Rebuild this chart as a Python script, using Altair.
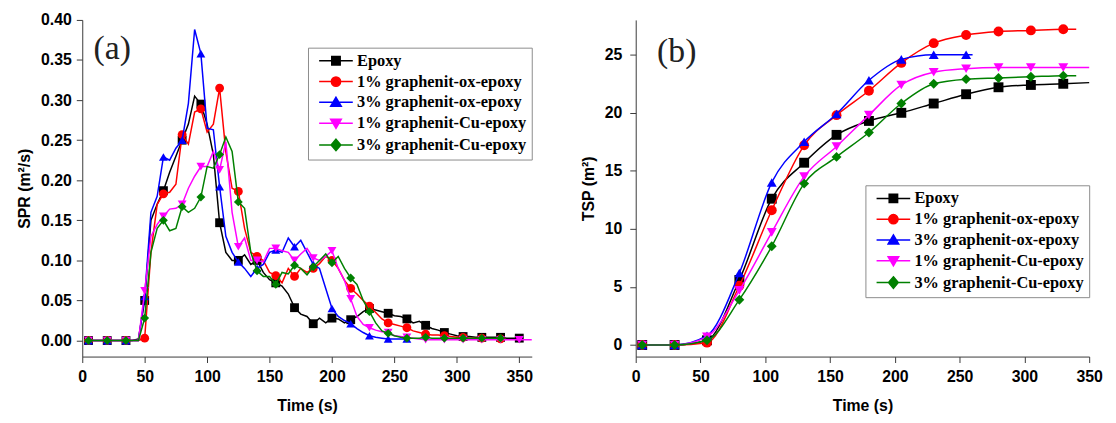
import altair as alt
import pandas as pd

NAMES = ["Epoxy", "1% graphenit-ox-epoxy", "3% graphenit-ox-epoxy",
         "1% graphenit-Cu-epoxy", "3% graphenit-Cu-epoxy"]
COLORS = ["#000000", "#ff0000", "#0000ff", "#ff00ff", "#008000"]
SHAPES = ["square", "circle", "triangle-up", "triangle-down", "diamond"]

# ---------------- SPR (m2/s), sampled every 5 s starting at 5 s ----------------
SPR_T0 = 5
SPR_DT = 5
spr_epoxy = [0, 0, 0, 0, 0, 0, 0, 0, 0.002,
             0.05, 0.15, 0.17, 0.187, 0.21, 0.23, 0.25, 0.27, 0.305, 0.295,
             0.27, 0.232, 0.147, 0.11, 0.10, 0.10, 0.107, 0.095, 0.10, 0.085,
             0.076, 0.072, 0.068, 0.058, 0.041, 0.033, 0.03, 0.021, 0.028, 0.022,
             0.028, 0.027, 0.022, 0.026, 0.03, 0.036, 0.04, 0.038, 0.036, 0.034,
             0.031, 0.03, 0.027, 0.022, 0.024, 0.019, 0.015, 0.013, 0.01, 0.008,
             0.006, 0.005, 0.005, 0.004, 0.004, 0.004, 0.004, 0.004, 0.003, 0.003,
             0.003]
spr_ox1 = [0, 0, 0, 0, 0, 0, 0, 0, 0,
           0.003, 0.11, 0.17, 0.183, 0.185, 0.195, 0.257, 0.245, 0.285, 0.289,
           0.26, 0.27, 0.315, 0.235, 0.19, 0.186, 0.14, 0.11, 0.105, 0.10,
           0.085, 0.081, 0.072, 0.09, 0.080, 0.09, 0.085, 0.09, 0.096, 0.105,
           0.10, 0.09, 0.075, 0.065, 0.058, 0.05, 0.043, 0.035, 0.027, 0.022,
           0.02, 0.018, 0.016, 0.012, 0.01, 0.008, 0.007, 0.007, 0.006, 0.005,
           0.004, 0.004, 0.003, 0.003, 0.003, 0.002, 0.002, 0.002]
spr_ox3 = [0, 0, 0, 0, 0, 0, 0, 0, 0,
           0.055, 0.16, 0.18, 0.229, 0.225, 0.24, 0.25, 0.296, 0.388, 0.358,
           0.265, 0.263, 0.192, 0.13, 0.11, 0.098, 0.09, 0.08, 0.09, 0.095,
           0.11, 0.113, 0.11, 0.128, 0.117, 0.125, 0.11, 0.095, 0.09, 0.065,
           0.04, 0.03, 0.025, 0.021, 0.015, 0.01, 0.006, 0.004, 0.003, 0.002,
           0.002, 0.002, 0.002]
spr_cu1 = [0, 0, 0, 0, 0, 0, 0, 0, 0,
           0.062, 0.13, 0.145, 0.155, 0.164, 0.165, 0.17, 0.19, 0.205, 0.217,
           0.217, 0.236, 0.213, 0.248, 0.16, 0.117, 0.128, 0.10, 0.10, 0.098,
           0.115, 0.115, 0.112, 0.11, 0.10, 0.108, 0.115, 0.103, 0.10, 0.105,
           0.112, 0.09, 0.075, 0.052, 0.03, 0.02, 0.016, 0.013, 0.011, 0.01,
           0.006, 0.005, 0.004, 0.003, 0.002, 0.001, 0.001, 0.001, 0.001, 0.001,
           0.001, 0.001, 0.001, 0.001, 0.001, 0.001, 0.001, 0.001, 0.001, 0.001,
           0.001, 0.001, 0.001]
spr_cu3 = [0, 0, 0, 0, 0, 0, 0, 0, 0,
           0.028, 0.11, 0.14, 0.150, 0.137, 0.14, 0.167, 0.16, 0.165, 0.179,
           0.217, 0.215, 0.232, 0.254, 0.236, 0.173, 0.165, 0.11, 0.087, 0.08,
           0.08, 0.07, 0.085, 0.083, 0.094, 0.09, 0.082, 0.092, 0.10, 0.108,
           0.097, 0.105, 0.09, 0.078, 0.07, 0.05, 0.036, 0.022, 0.012, 0.009,
           0.006, 0.004, 0.003, 0.003, 0.003, 0.004, 0.003, 0.003, 0.003, 0.003,
           0.003, 0.003, 0.003, 0.003, 0.003, 0.003, 0.003, 0.003]
spr_series = [spr_epoxy, spr_ox1, spr_ox3, spr_cu1, spr_cu3]

# ---------------- TSP (m2), markers every 25 s starting at 5 s ----------------
tsp_t = [5, 30, 55, 80, 105, 130, 155, 180, 205, 230, 255, 280, 305, 330]
tsp_epoxy = [0, 0, 0.4, 5.6, 12.6, 15.7, 18.1, 19.3, 20.0, 20.8, 21.6, 22.2, 22.4, 22.5]
tsp_ox1 = [0, 0, 0.2, 5.1, 11.6, 17.2, 19.8, 21.9, 24.3, 26.0, 26.7, 27.0, 27.1, 27.2]
tsp_ox3 = [0, 0, 0.8, 6.2, 14.0, 17.5, 19.9, 22.8, 24.6, 25.0, 25.0]
tsp_cu1 = [0, 0, 0.7, 4.7, 9.7, 14.5, 17.1, 19.8, 22.4, 23.5, 23.8, 23.9, 23.9, 23.9]
tsp_cu3 = [0, 0, 0.4, 3.9, 8.5, 13.9, 16.2, 18.3, 20.8, 22.5, 22.9, 23.0, 23.1, 23.2]
tsp_series = [tsp_epoxy, tsp_ox1, tsp_ox3, tsp_cu1, tsp_cu3]
# where each TSP curve ends (time, value) after its last marker
tsp_end_t = [350, 340, 260, 350, 340]
tsp_end_v = [22.6, 27.2, 25.0, 23.9, 23.2]

# ---------------- tables ----------------
spr_rows = []
for name, vals in zip(NAMES, spr_series):
    for i, v in enumerate(vals):
        spr_rows.append({"t": SPR_T0 + SPR_DT * i, "v": v, "s": name, "m": i % 3 == 0})
df_spr = pd.DataFrame(spr_rows)

tsp_rows = []
for name, vals, et, ev in zip(NAMES, tsp_series, tsp_end_t, tsp_end_v):
    for t, v in zip(tsp_t, vals):
        tsp_rows.append({"t": t, "v": v, "s": name, "m": True})
    tsp_rows.append({"t": et, "v": ev, "s": name, "m": False})
df_tsp = pd.DataFrame(tsp_rows)

# ---------------- styling helpers ----------------
SANS = "Liberation Sans"
SERIF = "Liberation Serif"
AX = "#3a3a3a"

LINE_PATH = "M-3.8,0H3.8"
SHAPE_PATHS = [
    "M-0.95,-0.95H0.95V0.95H-0.95Z",
    "M-1.05,0A1.05,1.05,0,1,1,1.05,0A1.05,1.05,0,1,1,-1.05,0Z",
    "M0,-1.15L1.2,0.9H-1.2Z",
    "M0,1.15L1.2,-0.9H-1.2Z",
    "M0,-1.3L1.1,0L0,1.3L-1.1,0Z",
]
LEGEND_PATHS = [LINE_PATH + p for p in SHAPE_PATHS]


def make_legend(lx, ly):
    return alt.Legend(
        title=None, orient="none", legendX=lx, legendY=ly, direction="vertical",
        labelFont=SERIF, labelFontWeight="bold", labelFontSize=16.5, labelColor="black",
        labelLimit=400, symbolSize=80, symbolOffset=15, labelOffset=13,
        symbolStrokeWidth=1.5, symbolOpacity=1,
        rowPadding=4, padding=5, strokeColor="#8c8c8c", fillColor="white",
    )


def make_axis(title, values, major_test, fmt_expr, label_pad, title_pad):
    return alt.Axis(
        title=title, values=values, grid=False,
        labelExpr=f"({major_test}) ? {fmt_expr} : ''",
        tickSize={"condition": {"test": major_test, "value": 6}, "value": 3.5},
        labelOverlap=False, labelFlush=False,
        domainColor=AX, tickColor=AX, tickWidth=1, domainWidth=1,
        labelFont=SANS, labelFontWeight="bold", labelFontSize=16, labelColor="black",
        titleFont=SANS, titleFontWeight="bold", titleFontSize=16, titleColor="black",
        labelPadding=label_pad, titlePadding=title_pad,
    )


def panel(df, xenc, yenc, legend, size, interp, tag, tag_x, tag_y, w, h):
    layers = []
    for name, col, shp in zip(NAMES, COLORS, SHAPES):
        sub = alt.Chart(df).transform_filter(alt.datum.s == name)
        layers.append(sub.mark_line(strokeWidth=1.5, color=col, interpolate=interp)
                      .encode(x=xenc, y=yenc, order="t:Q"))
        layers.append(sub.transform_filter("datum.m").mark_point(
            filled=True, size=size, opacity=1, strokeWidth=0, color=col, shape=shp)
            .encode(x=xenc, y=yenc))
    # legend carrier: draws nothing in the plot, only provides the legend entries
    leg_layer = alt.Chart(df).transform_filter("false").mark_point(
        filled=True, size=80, opacity=1, strokeWidth=1.5).encode(
        x=xenc, y=yenc,
        shape=alt.Shape("s:N", scale=alt.Scale(domain=NAMES, range=LEGEND_PATHS), legend=legend),
        fill=alt.Fill("s:N", scale=alt.Scale(domain=NAMES, range=COLORS), legend=legend),
        stroke=alt.Stroke("s:N", scale=alt.Scale(domain=NAMES, range=COLORS), legend=legend),
    )
    tag_layer = alt.Chart(pd.DataFrame({"z": [0]})).mark_text(
        font=SERIF, fontSize=34, align="left", baseline="middle", color="#222").encode(
        x=alt.datum(tag_x), y=alt.datum(tag_y), text=alt.value(tag))
    return alt.layer(*layers, leg_layer, tag_layer).properties(width=w, height=h)


# ---------------- (a) SPR ----------------
xa = alt.X("t:Q", scale=alt.Scale(domain=[0, 360], nice=False, zero=False),
           axis=make_axis("Time (s)", list(range(0, 351, 25)),
                          "datum.value % 50 === 0", "datum.label", 6, 13))
ya = alt.Y("v:Q", scale=alt.Scale(domain=[-0.02, 0.40], nice=False, zero=False),
           axis=make_axis("SPR (m²/s)", [round(i * 0.025, 3) for i in range(17)],
                          "round(datum.value * 1000) % 50 === 0",
                          "format(datum.value, '.2f')", 5, 8))
panel_a = panel(df_spr, xa, ya, make_legend(228, 28), 80, "linear", "(a)", 9.0, 0.363, 454, 340)

# ---------------- (b) TSP ----------------
xb = alt.X("t:Q", scale=alt.Scale(domain=[0, 350], nice=False, zero=False),
           axis=make_axis("Time (s)", list(range(0, 351, 25)),
                          "datum.value % 50 === 0", "datum.label", 6, 13))
yb = alt.Y("v:Q", scale=alt.Scale(domain=[-1, 28], nice=False, zero=False),
           axis=make_axis("TSP (m²)", [i * 2.5 for i in range(12)],
                          "datum.value % 5 === 0", "datum.label", 8, 8))
panel_b = panel(df_tsp, xb, yb, make_legend(232, 167), 100, "monotone", "(b)", 16.5, 25.2, 458, 340)

chart = alt.hconcat(panel_a, panel_b, spacing=46).resolve_scale(
    x="independent", y="independent", shape="independent",
    fill="independent", stroke="independent"
).resolve_legend(shape="independent", fill="independent", stroke="independent").configure_view(
    stroke=None
).properties(padding={"left": 8, "top": 2, "right": 5, "bottom": 5}, background="white")

chart.save("out.html", embed_options={"renderer": "svg", "actions": False})
